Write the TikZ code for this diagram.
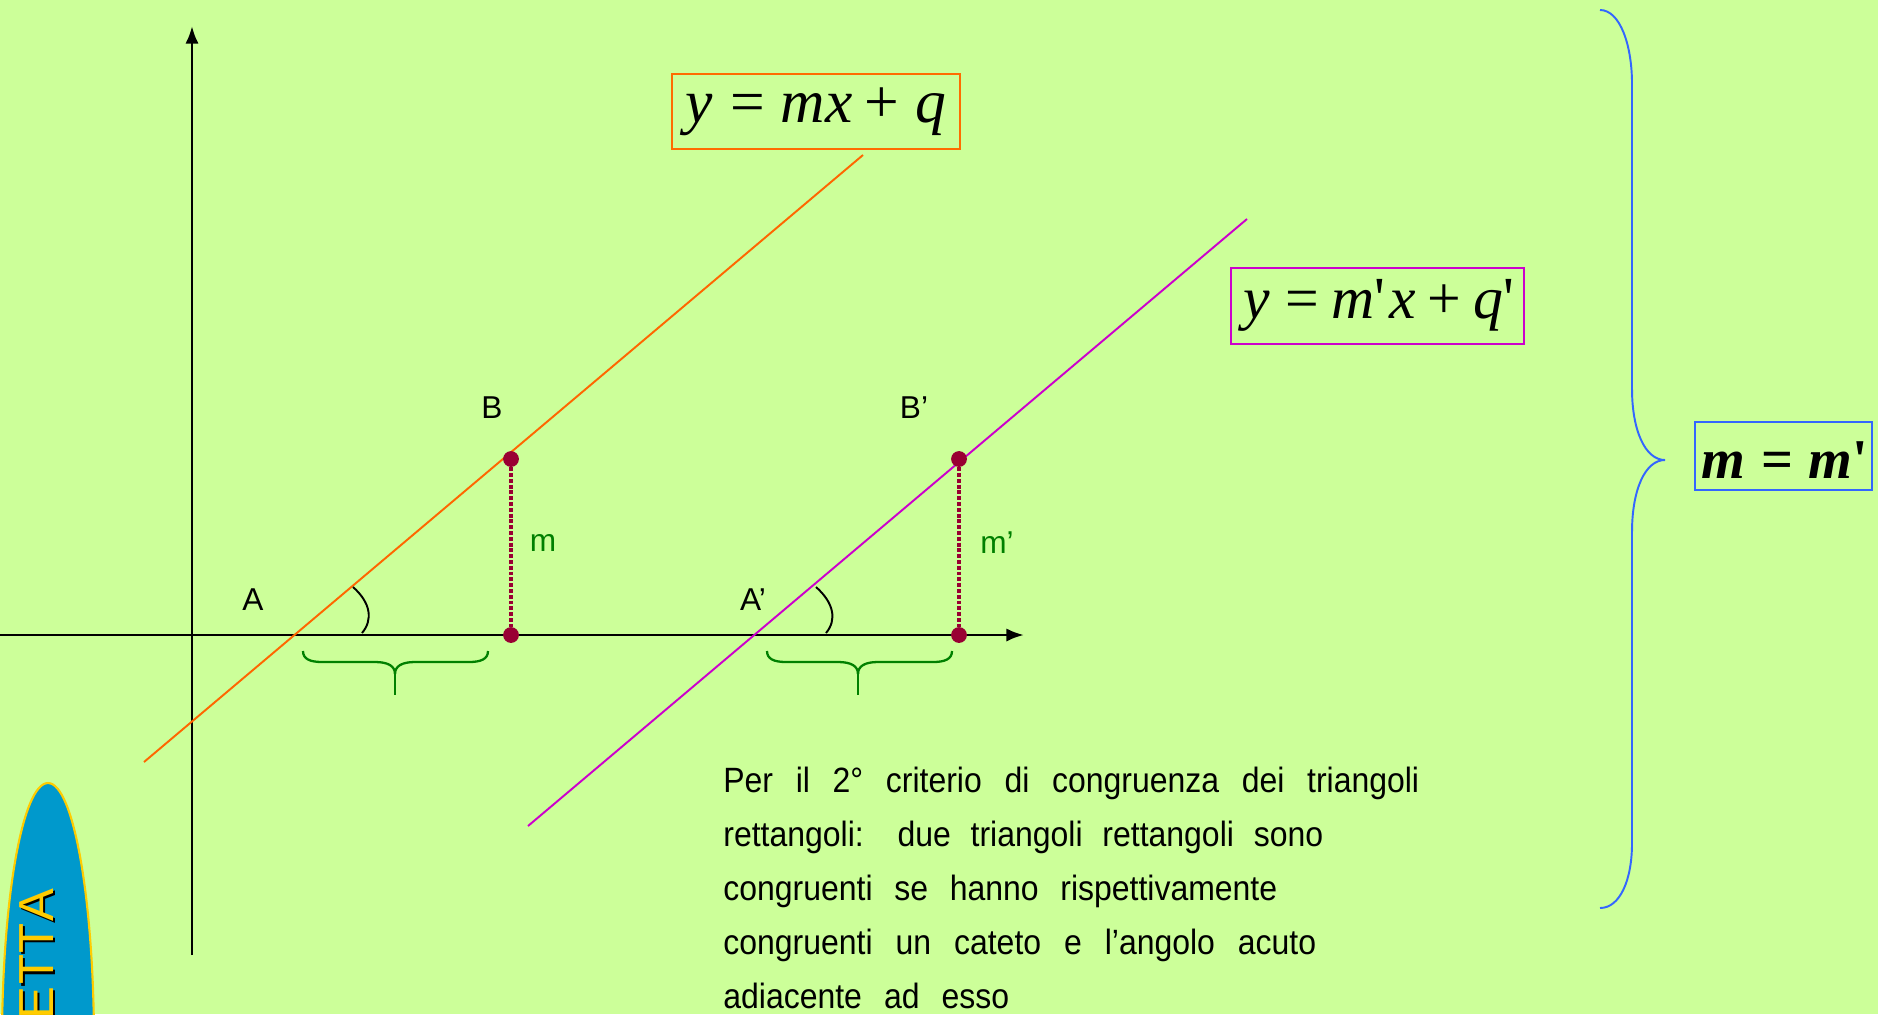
\documentclass[tikz,border=0pt]{standalone}
\usepackage{fontspec}
\setmainfont{Liberation Sans}
\newfontfamily\narrowfont[FakeStretch=0.91]{Liberation Sans}
\newfontfamily\eqfont[Ligatures=TeXOff]{Liberation Serif}
\usetikzlibrary{arrows.meta}
\definecolor{bg}{RGB}{204,255,153}
\definecolor{lineA}{RGB}{255,102,0}
\definecolor{lineB}{RGB}{204,0,204}
\definecolor{ptcol}{RGB}{153,0,51}
\definecolor{grn}{RGB}{0,128,0}
\definecolor{blu}{RGB}{51,102,255}
\definecolor{ellfill}{RGB}{0,153,204}
\definecolor{gold}{RGB}{255,204,0}
\begin{document}
\begin{tikzpicture}[x=0.02cm,y=-0.02cm,
  lbl/.style={inner sep=0pt,font=\fontsize{18}{21}\selectfont},
  body/.style={inner sep=0pt,anchor=base west,font=\narrowfont\fontsize{20}{24}\selectfont},
  eqtxt/.style={inner sep=0pt,anchor=base,font=\eqfont\fontsize{34}{38}\selectfont},
  axis/.style={line width=1.6pt,-{Latex[length=10pt,width=7.5pt]}},
  pdot/.style={circle,fill=ptcol,inner sep=0pt,minimum size=9pt},
  dotline/.style={ptcol,line width=2pt,dash pattern=on 2.2pt off 1.1pt},
  brc/.style={grn,line width=1.3pt},
  angarc/.style={black,line width=1.1pt}]
\useasboundingbox (0,0) rectangle (1878,1014);
\clip (0,0) rectangle (1878,1014);
\fill[bg] (0,0) rectangle (1878,1014);

% axes
\coordinate (xs) at (0,635);
\coordinate (xe) at (1024,635);
\coordinate (ys) at (192,955);
\coordinate (ye) at (192,26);
\draw[axis] (xs) -- (xe);
\draw[axis] (ys) -- (ye);

% lines
\coordinate (La) at (144,762);
\coordinate (Lb) at (863,155);
\coordinate (Ma) at (528,826);
\coordinate (Mb) at (1247,219);
\draw[lineA,line width=1.1pt] (La) -- (Lb);
\draw[lineB,line width=1.1pt] (Ma) -- (Mb);

% angle arcs
\draw[angarc] (353,587) .. controls (371,603) and (373,620) .. (362,633);
\draw[angarc] (816,587) .. controls (834,603) and (837,620) .. (826,633);

% points and dotted legs
\node[pdot] (B) at (511,459) {};
\node[pdot] (Bf) at (511,635) {};
\node[pdot] (B2) at (959,459) {};
\node[pdot] (B2f) at (959,635) {};
\draw[dotline] (B) -- (Bf);
\draw[dotline] (B2) -- (B2f);

% labels
\node[lbl] (lA) at (253,600) {A};
\node[lbl] (lB) at (492,408) {B};
\node[lbl] (lA2) at (753,600) {A’};
\node[lbl] (lB2) at (914,408) {B’};
\node[lbl,text=grn] (lm) at (543,543) {m};
\node[lbl,text=grn] (lm2) at (997,543) {m’};

% green braces
\draw[brc] (303,651) .. controls (303,659) and (310,662) .. (322,662) -- (375,662)
  .. controls (388,662) and (395,666) .. (395,674);
\draw[brc] (488,651) .. controls (488,659) and (481,662) .. (469,662) -- (415,662)
  .. controls (402,662) and (395,666) .. (395,674);
\draw[brc,line width=1.6pt] (395,670) -- (395,695);
\draw[brc] (767,651) .. controls (767,659) and (774,662) .. (786,662) -- (838,662)
  .. controls (851,662) and (858,666) .. (858,674);
\draw[brc] (952,651) .. controls (952,659) and (945,662) .. (933,662) -- (878,662)
  .. controls (865,662) and (858,666) .. (858,674);
\draw[brc,line width=1.6pt] (858,670) -- (858,695);

% equation boxes
\draw[lineA!80!orange,line width=1.2pt] (672,74) rectangle (960,149);
\node[eqtxt,font=\eqfont\fontsize{35}{38}\selectfont] (eqA) at (816,122) {\itshape y\hspace{0.28em}\upshape=\hspace{0.26em}\itshape mx\hspace{0.2em}\upshape+\hspace{0.26em}\itshape q};
\draw[lineB,line width=1.2pt] (1231,268) rectangle (1524,344);
\node[eqtxt] (eqB) at (1379,318) {\itshape y\hspace{0.26em}\upshape=\hspace{0.2em}\itshape m\upshape'\hspace{0.08em}\itshape x\hspace{0.18em}\upshape+\hspace{0.22em}\itshape q\upshape'};
\draw[blu,line width=1.2pt] (1695,422) rectangle (1872,490);
\node[eqtxt,font=\eqfont\fontsize{32}{36}\selectfont] (eqC) at (1785,478) {\bfseries\itshape m\hspace{0.28em}\upshape=\hspace{0.28em}\itshape m\upshape'};

% blue brace
\draw[blu,line width=1.1pt] (1600,10) .. controls (1620,10) and (1632,45) .. (1632,84) -- (1632,389)
  .. controls (1632,430) and (1645,460) .. (1665,460)
  .. controls (1645,460) and (1632,490) .. (1632,532) -- (1632,843)
  .. controls (1632,880) and (1620,908) .. (1600,908);

% body text
\node[body] (t1) at (723,792) {\makebox[13.92cm][s]{Per il 2° criterio di congruenza dei triangoli}};
\node[body] (t2) at (723,846) {\makebox[12.0cm][s]{rettangoli: due triangoli rettangoli sono}};
\node[body] (t3) at (723,900) {\makebox[11.08cm][s]{congruenti se hanno rispettivamente}};
\node[body] (t4) at (723,954) {\makebox[11.86cm][s]{congruenti un cateto e l’angolo acuto}};
\node[body] (t5) at (723,1008) {\makebox[5.72cm][s]{adiacente ad esso}};

% ellipse
\filldraw[fill=ellfill,draw=gold,line width=1.2pt] (48,1043) ellipse [x radius=46, y radius=260];
\node[rotate=90,anchor=base east,inner sep=0pt,text=black,font=\fontsize{28}{30}\selectfont] (ettaS) at (55.5,890.5) {E\kern1pt T\kern1pt T\kern1pt A};
\node[rotate=90,anchor=base east,inner sep=0pt,text=gold,font=\fontsize{28}{30}\selectfont] (etta) at (53,888) {E\kern1pt T\kern1pt T\kern1pt A};
\end{tikzpicture}
\end{document}
